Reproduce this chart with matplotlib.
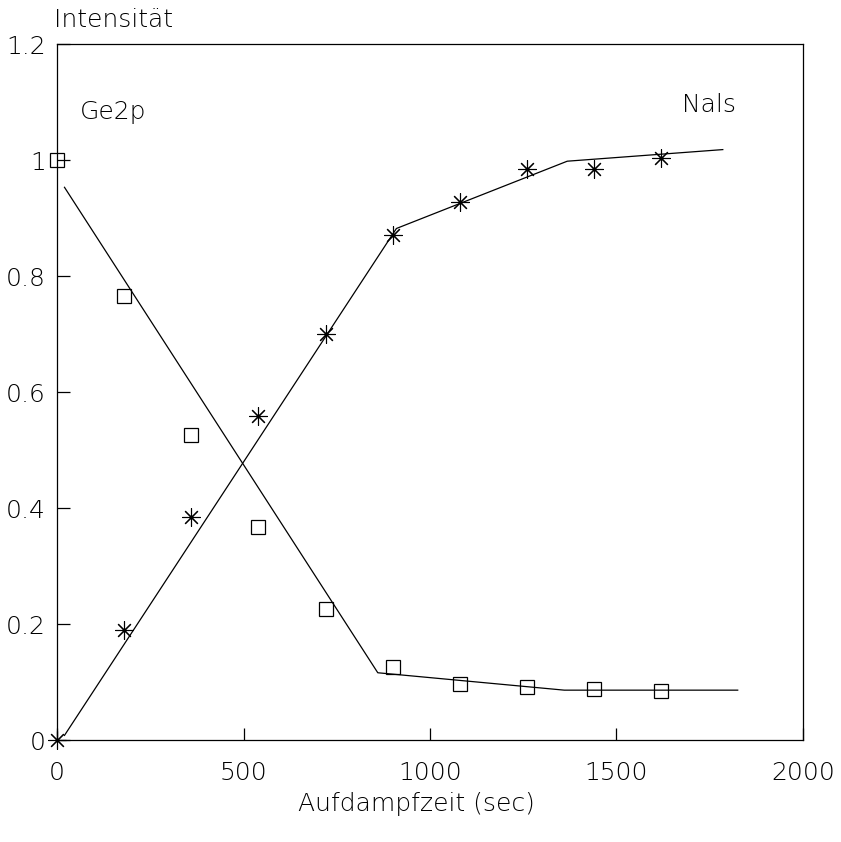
import matplotlib.pyplot as plt
import numpy as np

# Messpunkte (Aufdampfzeit in sec, normierte Intensitaet)
zeit = [0, 180, 360, 540, 720, 900, 1080, 1260, 1440, 1620]
ge2p = [1.0, 0.766, 0.526, 0.367, 0.226, 0.126, 0.097, 0.091, 0.088, 0.085]
na1s = [0.0, 0.19, 0.384, 0.559, 0.70, 0.871, 0.927, 0.984, 0.984, 1.003]

# Ausgleichsgeraden (Stuetzpunkte)
ge_fit_x = [20, 860, 1360, 1825]
ge_fit_y = [0.953, 0.116, 0.086, 0.086]
na_fit_x = [20, 910, 1368, 1785]
na_fit_y = [0.008, 0.882, 0.998, 1.018]

plt.rcParams['font.family'] = ['DejaVu Sans']
plt.rcParams['font.weight'] = 'light'
plt.rcParams['axes.labelweight'] = 'light'
plt.rcParams['text.color'] = 'black'
fs = 18

fig = plt.figure(figsize=(8.41, 8.42), dpi=100)
ax = fig.add_axes([0.0678, 0.1211, 0.8870, 0.8266])

ax.plot(ge_fit_x, ge_fit_y, 'k-', lw=0.9)
ax.plot(na_fit_x, na_fit_y, 'k-', lw=0.9)
ax.plot(zeit, ge2p, linestyle='none', marker='s', ms=10, mfc='none', mec='k', mew=0.9, clip_on=False)
ax.plot(zeit, na1s, linestyle='none', marker=(8, 2, 0), ms=13, mec='k', mew=0.8, clip_on=False)

ax.set_xlim(0, 2000)
ax.set_ylim(0, 1.2)
ax.set_xticks([0, 500, 1000, 1500, 2000])
ax.set_xticklabels(['0', '500', '1000', '1500', '2000'])
ax.set_yticks([0, 0.2, 0.4, 0.6, 0.8, 1.0, 1.2])
ax.set_yticklabels(['0', '0.2', '0.4', '0.6', '0.8', '1', '1.2'])
ax.tick_params(axis='x', direction='in', length=9, width=0.9, pad=15, labelsize=fs)
ax.tick_params(axis='y', direction='in', length=9, width=0.9, pad=8, labelsize=fs)
for s in ax.spines.values():
    s.set_linewidth(0.9)

ax.set_xlabel('Aufdampfzeit (sec)', fontsize=fs, labelpad=5, fontweight='light')
ax.xaxis.label.set_x(0.482)
fig.text(0.064, 0.976, 'Intensität', fontsize=fs, ha='left', va='center')
ax.text(62, 1.083, 'Ge2p', fontsize=fs, ha='left', va='center')
ax.text(1820, 1.095, 'Nals', fontsize=fs, ha='right', va='center')

fig.savefig('out.png', dpi=100)
